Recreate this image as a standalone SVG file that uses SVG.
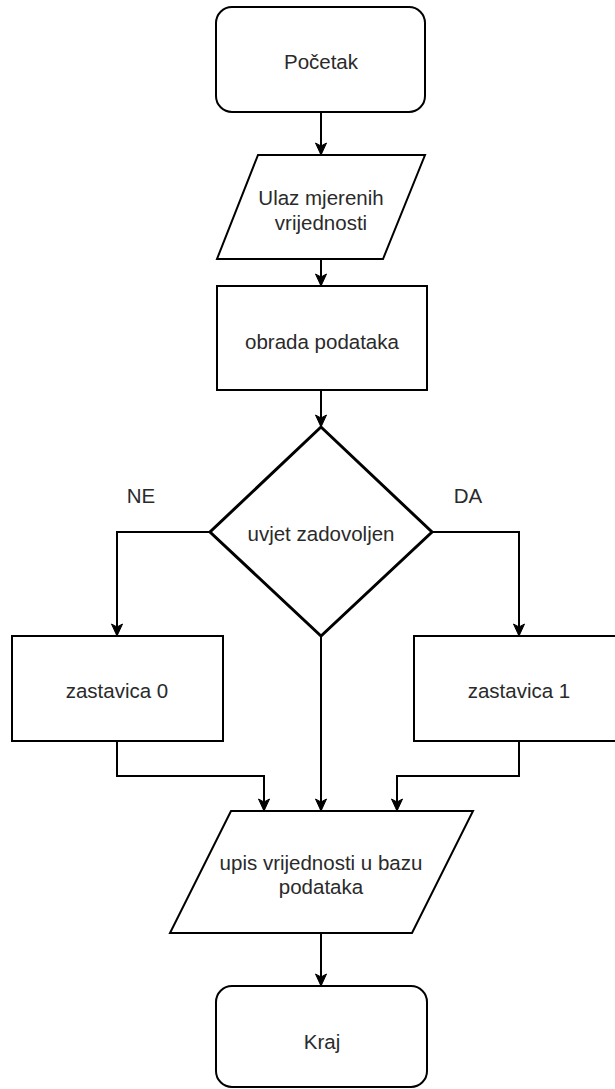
<svg xmlns="http://www.w3.org/2000/svg" width="615" height="1089" viewBox="0 0 615 1089">
<style>
.shape{fill:#ffffff;stroke:#000000;stroke-width:2}
.dia{fill:#ffffff;stroke:#000000;stroke-width:3}
.lbl{font-family:"Liberation Sans",Arial,sans-serif;font-size:20.5px;fill:#2a2a2a;text-anchor:middle}
.conn{fill:none;stroke:#000000;stroke-width:2}
</style>
<defs>
<marker id="arr" markerUnits="userSpaceOnUse" markerWidth="14" markerHeight="14" viewBox="0 0 14 14" refX="13" refY="7" orient="auto">
<path d="M1,1.5 L13,7 L1,12.5 L4,7 Z" fill="#000000" stroke="#000000" stroke-width="1"/>
</marker>
</defs>
<rect width="615" height="1089" fill="#ffffff"/>
<g id="connectors">
<path class="conn" d="M321,112 L321,155" marker-end="url(#arr)"/>
<path class="conn" d="M321,259 L321,286" marker-end="url(#arr)"/>
<path class="conn" d="M321,390 L321,427" marker-end="url(#arr)"/>
<path class="conn" d="M210,532 L117,532 L117,636" marker-end="url(#arr)"/>
<path class="conn" d="M432,532 L519,532 L519,636" marker-end="url(#arr)"/>
<path class="conn" d="M321,636 L321,811" marker-end="url(#arr)"/>
<path class="conn" d="M117,741 L117,776 L264,776 L264,811" marker-end="url(#arr)"/>
<path class="conn" d="M519,741 L519,776 L397,776 L397,811" marker-end="url(#arr)"/>
<path class="conn" d="M321,933 L321,986" marker-end="url(#arr)"/>
</g>
<g id="pocetak">
<rect class="shape" x="216" y="7" width="209" height="105" rx="16" ry="16"/>
<text class="lbl" x="321" y="69">Početak</text>
</g>
<g id="ulaz">
<polygon class="shape" points="258,155 425,155 383,259 217,259"/>
<text class="lbl" x="321" y="205">Ulaz mjerenih</text>
<text class="lbl" x="321" y="230">vrijednosti</text>
</g>
<g id="obrada">
<rect class="shape" x="217" y="286" width="210" height="104"/>
<text class="lbl" x="322" y="349">obrada podataka</text>
</g>
<g id="uvjet">
<polygon class="dia" points="321,427 432,532 321,636 210,532"/>
<text class="lbl" x="321" y="541">uvjet zadovoljen</text>
</g>
<g id="label-ne">
<text class="lbl" x="141" y="503">NE</text>
</g>
<g id="label-da">
<text class="lbl" x="468" y="503">DA</text>
</g>
<g id="zastavica0">
<rect class="shape" x="12" y="636" width="211" height="105"/>
<text class="lbl" x="117" y="698">zastavica 0</text>
</g>
<g id="zastavica1">
<rect class="shape" x="414" y="636" width="210" height="105"/>
<text class="lbl" x="519" y="698">zastavica 1</text>
</g>
<g id="upis">
<polygon class="shape" points="231,811 473,811 412,933 170,933"/>
<text class="lbl" x="321" y="870">upis vrijednosti u bazu</text>
<text class="lbl" x="321" y="894">podataka</text>
</g>
<g id="kraj">
<rect class="shape" x="216" y="986" width="211" height="101" rx="16" ry="16"/>
<text class="lbl" x="322" y="1049">Kraj</text>
</g>
</svg>
